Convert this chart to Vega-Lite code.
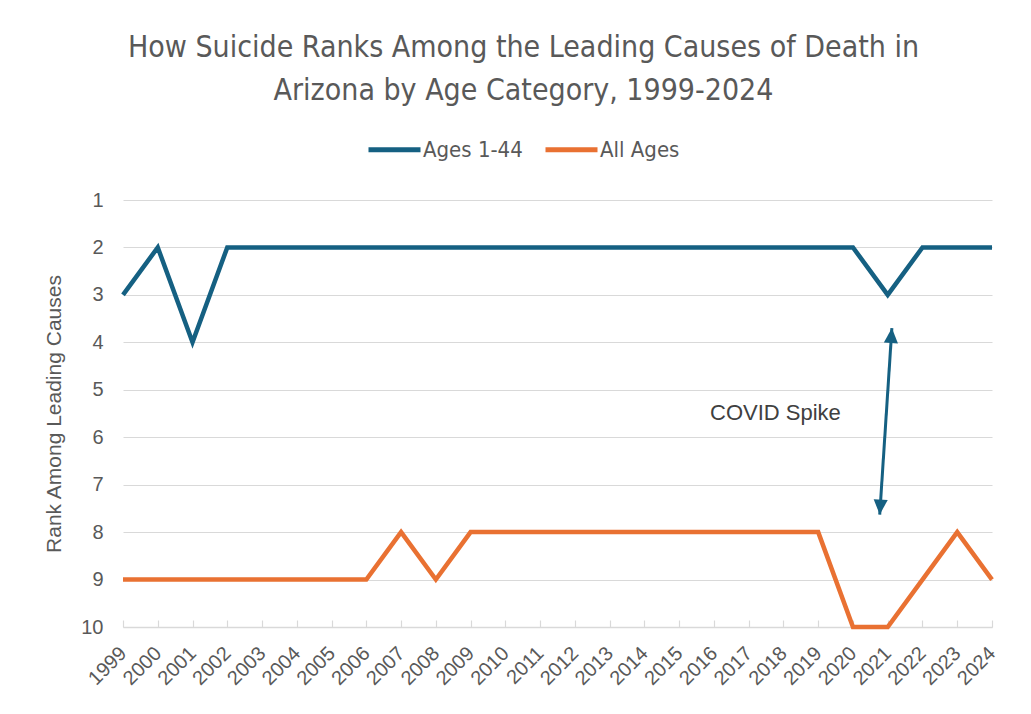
{
  "$schema": "https://vega.github.io/schema/vega-lite/v6.json",
  "width": 869,
  "height": 427,
  "autosize": {"type": "none"},
  "padding": {"left": 123, "top": 200, "right": 39, "bottom": 87},
  "background": "white",
  "title": {
    "text": ["How Suicide Ranks Among the Leading Causes of Death in", "Arizona by Age Category, 1999-2024"],
    "anchor": "middle",
    "frame": "group",
    "dx": -34,
    "offset": 15,
    "font": "DejaVu Sans Condensed, Roboto",
    "fontSize": 30,
    "fontWeight": "normal",
    "lineHeight": 43,
    "color": "#595959"
  },
  "config": {
    "view": {"stroke": null},
    "font": "Liberation Sans",
    "axis": {
      "labelColor": "#595959",
      "titleColor": "#595959",
      "labelFont": "Liberation Sans",
      "titleFont": "Liberation Sans"
    }
  },
  "datasets": {
    "ranks": [
      {"year": 1999, "series": "Ages 1-44", "rank": 3},
      {"year": 2000, "series": "Ages 1-44", "rank": 2},
      {"year": 2001, "series": "Ages 1-44", "rank": 4},
      {"year": 2002, "series": "Ages 1-44", "rank": 2},
      {"year": 2003, "series": "Ages 1-44", "rank": 2},
      {"year": 2004, "series": "Ages 1-44", "rank": 2},
      {"year": 2005, "series": "Ages 1-44", "rank": 2},
      {"year": 2006, "series": "Ages 1-44", "rank": 2},
      {"year": 2007, "series": "Ages 1-44", "rank": 2},
      {"year": 2008, "series": "Ages 1-44", "rank": 2},
      {"year": 2009, "series": "Ages 1-44", "rank": 2},
      {"year": 2010, "series": "Ages 1-44", "rank": 2},
      {"year": 2011, "series": "Ages 1-44", "rank": 2},
      {"year": 2012, "series": "Ages 1-44", "rank": 2},
      {"year": 2013, "series": "Ages 1-44", "rank": 2},
      {"year": 2014, "series": "Ages 1-44", "rank": 2},
      {"year": 2015, "series": "Ages 1-44", "rank": 2},
      {"year": 2016, "series": "Ages 1-44", "rank": 2},
      {"year": 2017, "series": "Ages 1-44", "rank": 2},
      {"year": 2018, "series": "Ages 1-44", "rank": 2},
      {"year": 2019, "series": "Ages 1-44", "rank": 2},
      {"year": 2020, "series": "Ages 1-44", "rank": 2},
      {"year": 2021, "series": "Ages 1-44", "rank": 3},
      {"year": 2022, "series": "Ages 1-44", "rank": 2},
      {"year": 2023, "series": "Ages 1-44", "rank": 2},
      {"year": 2024, "series": "Ages 1-44", "rank": 2},
      {"year": 1999, "series": "All Ages", "rank": 9},
      {"year": 2000, "series": "All Ages", "rank": 9},
      {"year": 2001, "series": "All Ages", "rank": 9},
      {"year": 2002, "series": "All Ages", "rank": 9},
      {"year": 2003, "series": "All Ages", "rank": 9},
      {"year": 2004, "series": "All Ages", "rank": 9},
      {"year": 2005, "series": "All Ages", "rank": 9},
      {"year": 2006, "series": "All Ages", "rank": 9},
      {"year": 2007, "series": "All Ages", "rank": 8},
      {"year": 2008, "series": "All Ages", "rank": 9},
      {"year": 2009, "series": "All Ages", "rank": 8},
      {"year": 2010, "series": "All Ages", "rank": 8},
      {"year": 2011, "series": "All Ages", "rank": 8},
      {"year": 2012, "series": "All Ages", "rank": 8},
      {"year": 2013, "series": "All Ages", "rank": 8},
      {"year": 2014, "series": "All Ages", "rank": 8},
      {"year": 2015, "series": "All Ages", "rank": 8},
      {"year": 2016, "series": "All Ages", "rank": 8},
      {"year": 2017, "series": "All Ages", "rank": 8},
      {"year": 2018, "series": "All Ages", "rank": 8},
      {"year": 2019, "series": "All Ages", "rank": 8},
      {"year": 2020, "series": "All Ages", "rank": 10},
      {"year": 2021, "series": "All Ages", "rank": 10},
      {"year": 2022, "series": "All Ages", "rank": 9},
      {"year": 2023, "series": "All Ages", "rank": 8},
      {"year": 2024, "series": "All Ages", "rank": 9}
    ],
    "covid_arrow": [
      {"top_year": 2021.12, "top_rank": 3.7, "bottom_year": 2020.77, "bottom_rank": 7.63}
    ],
    "covid_note": [
      {"year": 2017.77, "rank": 5.48, "label": "COVID Spike"}
    ]
  },
  "layer": [
    {
      "data": {"name": "ranks"},
      "mark": {"type": "line", "strokeWidth": 4.5, "strokeJoin": "miter", "strokeMiterLimit": 10},
      "encoding": {
        "x": {
          "field": "year",
          "type": "quantitative",
          "scale": {"domain": [1999, 2024], "nice": false, "zero": false},
          "axis": {
            "title": null,
            "values": [1999, 2000, 2001, 2002, 2003, 2004, 2005, 2006, 2007, 2008, 2009, 2010, 2011, 2012, 2013, 2014, 2015, 2016, 2017, 2018, 2019, 2020, 2021, 2022, 2023, 2024],
            "tickCount": 40,
            "format": "d",
            "grid": false,
            "domainColor": "#d9d9d9",
            "domainWidth": 1.5,
            "tickColor": "#d9d9d9",
            "tickWidth": 1.2,
            "tickSize": -7,
            "labelAngle": -45,
            "labelAlign": "right",
            "labelBaseline": "middle",
            "labelPadding": 30,
            "labelFontSize": 20,
            "labelOverlap": false,
            "labelFlush": false,
            "labelBound": false
          }
        },
        "y": {
          "field": "rank",
          "type": "quantitative",
          "scale": {"domain": [1, 10], "reverse": true, "nice": false, "zero": false},
          "axis": {
            "title": "Rank Among Leading Causes",
            "values": [1, 2, 3, 4, 5, 6, 7, 8, 9, 10],
            "tickCount": 10,
            "format": "d",
            "domain": false,
            "ticks": false,
            "grid": true,
            "gridColor": "#d9d9d9",
            "gridWidth": 1.2,
            "labelFontSize": 20,
            "labelPadding": 20,
            "titleFontSize": 21,
            "titleFontWeight": "normal",
            "titlePadding": 16
          }
        },
        "color": {
          "field": "series",
          "type": "nominal",
          "scale": {"domain": ["Ages 1-44", "All Ages"], "range": ["#156082", "#E97132"]},
          "legend": {
            "title": null,
            "orient": "none",
            "direction": "horizontal",
            "legendX": 243,
            "legendY": -79,
            "symbolType": "stroke",
            "symbolSize": 2704,
            "symbolStrokeWidth": 5,
            "symbolOffset": 0,
            "labelFont": "DejaVu Sans Condensed, Roboto",
            "labelFontSize": 22,
            "labelColor": "#595959",
            "labelOffset": 0,
            "columnPadding": 12
          }
        }
      }
    },
    {
      "data": {"name": "covid_arrow"},
      "mark": {"type": "rule", "color": "#156082", "strokeWidth": 3},
      "encoding": {
        "x": {"field": "top_year", "type": "quantitative", "title": null},
        "y": {"field": "top_rank", "type": "quantitative", "title": "Rank Among Leading Causes"},
        "x2": {"field": "bottom_year"},
        "y2": {"field": "bottom_rank"}
      }
    },
    {
      "data": {"name": "covid_arrow"},
      "mark": {"type": "point", "shape": "M0,0L-0.47,1L0.47,1Z", "filled": true, "opacity": 1, "size": 900, "angle": 3.7, "color": "#156082", "strokeWidth": 0},
      "encoding": {
        "x": {"field": "top_year", "type": "quantitative", "title": null},
        "y": {"field": "top_rank", "type": "quantitative", "title": "Rank Among Leading Causes"}
      }
    },
    {
      "data": {"name": "covid_arrow"},
      "mark": {"type": "point", "shape": "M0,0L-0.47,-1L0.47,-1Z", "filled": true, "opacity": 1, "size": 900, "angle": 3.7, "color": "#156082", "strokeWidth": 0},
      "encoding": {
        "x": {"field": "bottom_year", "type": "quantitative", "title": null},
        "y": {"field": "bottom_rank", "type": "quantitative", "title": "Rank Among Leading Causes"}
      }
    },
    {
      "data": {"name": "covid_note"},
      "mark": {"type": "text", "font": "Liberation Sans", "fontSize": 22, "color": "#404040", "align": "center", "baseline": "middle"},
      "encoding": {
        "x": {"field": "year", "type": "quantitative", "title": null},
        "y": {"field": "rank", "type": "quantitative", "title": "Rank Among Leading Causes"},
        "text": {"field": "label"}
      }
    }
  ]
}
